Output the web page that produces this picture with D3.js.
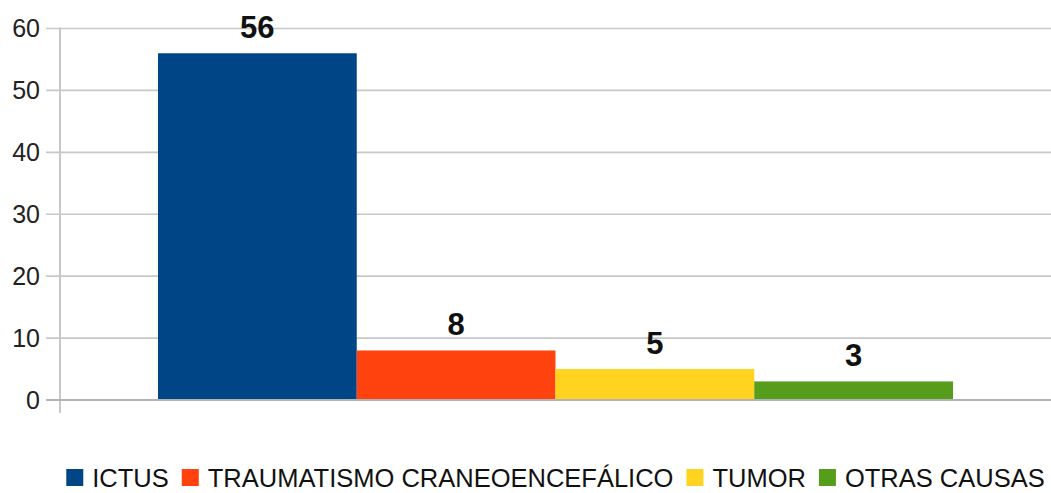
<!DOCTYPE html>
<html>
<head>
<meta charset="utf-8">
<script src="https://cdn.jsdelivr.net/npm/d3@7"></script>
<style>
  body { margin: 0; background: #fff; }
  svg { display: block; font-family: "Liberation Sans", Arial, sans-serif; }
</style>
</head>
<body>
<div id="chart"></div>
<script>
// data
const series = ["ICTUS", "TRAUMATISMO CRANEOENCEFÁLICO", "TUMOR", "OTRAS CAUSAS"];
const values = [56, 8, 5, 3];
const colors = ["#004586", "#ff420e", "#ffd320", "#579d1c"];
const yTicks = [0, 10, 20, 30, 40, 50, 60];

const W = 1051, H = 493;
const plotLeft = 60, plotRight = 1051, plotTop = 28.5, plotBottom = 400;

const svg = d3.select("#chart").append("svg")
    .attr("width", W)
    .attr("height", H);

const x = d3.scaleBand()
    .domain(series)
    .range([plotLeft, plotRight])
    .paddingInner(0)
    .paddingOuter(0.493);

const y = d3.scaleLinear()
    .domain([0, 60])
    .range([plotBottom, plotTop]);

// gridlines (they also make the small tick marks left of the axis)
svg.append("g")
  .selectAll("line")
  .data(yTicks.filter(d => d !== 0))
  .enter().append("line")
    .attr("x1", 46)
    .attr("x2", plotRight)
    .attr("y1", d => y(d))
    .attr("y2", d => y(d))
    .attr("stroke", "#c8c8c8")
    .attr("stroke-width", 1.6);

// y axis labels
const yAxis = svg.append("g")
    .attr("transform", "translate(" + plotLeft + ",0)")
    .call(d3.axisLeft(y).tickValues(yTicks).tickSize(0).tickPadding(20));
yAxis.select(".domain").remove();
yAxis.selectAll("text")
    .attr("font-family", "Liberation Sans, Arial, sans-serif")
    .attr("font-size", 25)
    .attr("fill", "#222");

// bars
svg.append("g")
  .selectAll("rect")
  .data(series)
  .enter().append("rect")
    .attr("x", d => x(d))
    .attr("width", x.bandwidth())
    .attr("y", (d, i) => y(values[i]))
    .attr("height", (d, i) => y(0) - y(values[i]))
    .attr("fill", (d, i) => colors[i]);

// vertical axis line
svg.append("line")
    .attr("x1", plotLeft).attr("x2", plotLeft)
    .attr("y1", plotTop - 1).attr("y2", plotBottom + 13)
    .attr("stroke", "#c8c8c8")
    .attr("stroke-width", 2);

// zero line
svg.append("line")
    .attr("x1", 46).attr("x2", plotRight)
    .attr("y1", y(0)).attr("y2", y(0))
    .attr("stroke", "#b3b3b3")
    .attr("stroke-width", 2);

// value labels
svg.append("g")
  .selectAll("text")
  .data(series)
  .enter().append("text")
    .attr("x", d => x(d) + x.bandwidth() / 2)
    .attr("y", (d, i) => y(values[i]) - 15)
    .attr("text-anchor", "middle")
    .attr("font-size", 31)
    .attr("font-weight", "bold")
    .attr("fill", "#111")
    .text((d, i) => values[i]);

// legend, centred under the plot
const legend = svg.append("g");
const fs = 25.5;
let pos = 0;
series.forEach((s, i) => {
  const g = legend.append("g").attr("transform", "translate(" + pos + ",0)");
  g.append("rect")
      .attr("x", 0).attr("y", 469)
      .attr("width", 17).attr("height", 17)
      .attr("fill", colors[i]);
  const t = g.append("text")
      .attr("x", 26).attr("y", 487)
      .attr("font-size", fs)
      .attr("fill", "#111")
      .text(s);
  pos += 26 + t.node().getComputedTextLength() + 13;
});
const legendW = pos - 13;
legend.attr("transform", "translate(" + ((plotLeft + plotRight) / 2 - legendW / 2) + ",0)");
</script>
</body>
</html>
